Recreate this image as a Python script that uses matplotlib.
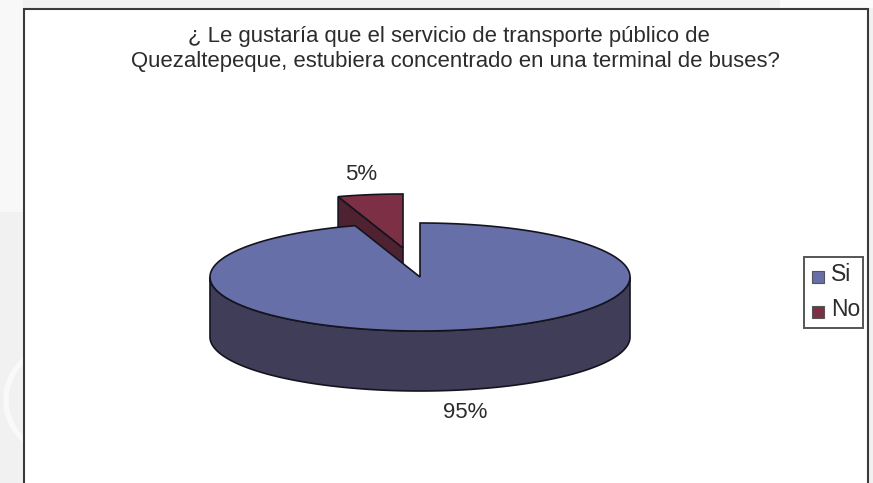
import numpy as np
import matplotlib
matplotlib.use("Agg")
import matplotlib.pyplot as plt
from matplotlib.patches import Arc, Polygon, Rectangle

# Survey answers
categories = ["Si", "No"]
shares = [95, 5]
share_labels = ["95%", "5%"]
title_lines = ["¿ Le gustaría que el servicio de transporte público de",
               "Quezaltepeque, estubiera concentrado en una terminal de buses?"]

top_colors = ["#666fa8", "#7d2f45"]
side_colors = ["#3f3d58", "#4f2232"]
EDGE = "#14141e"
TEXT = "#2c2c2c"

W, H = 873, 483
fig = plt.figure(figsize=(W / 100, H / 100), dpi=100, facecolor="#f1f1f1")
ax = fig.add_axes([0, 0, 1, 1])
ax.set_xlim(0, W)
ax.set_ylim(H, 0)
ax.axis("off")
plt.rcParams["font.family"] = ["Liberation Sans", "DejaVu Sans"]

# Pale page decoration around the chart
ax.add_patch(Rectangle((0, 0), 23, 212, fc="#f8f8f8", ec="none", zorder=0))
ax.add_patch(Rectangle((780, 0), 93, 8, fc="#fbfbfb", ec="none", zorder=0))
ax.add_patch(Arc((48, 400), 84, 96, theta1=90, theta2=270, ec="#f9f9f9", lw=4, zorder=0))

# Chart frame
ax.add_patch(Rectangle((23.5, 8.5), 844, 500, fc="white", ec="#3a3a3a", lw=1.5, zorder=1))

# Pie geometry: a flattened disc, clockwise from twelve o'clock
cx, cy, a, b, depth = 420.0, 277.0, 210.0, 54.0, 60.0


def rim(theta_deg, dx=0.0, dy=0.0):
    t = np.radians(theta_deg)
    return np.column_stack([cx + dx + a * np.sin(t), cy + dy - b * np.cos(t)])


fractions = np.array(shares) / sum(shares)
blue_end = 360 * fractions[0]
blue_arc = rim(np.linspace(0, blue_end, 300))

# Exploded "No" slice: drawn first so the disc overlaps its lower part
ox, oy = -17.0, -29.0
red_arc = rim(np.linspace(blue_end, 360, 40), ox, oy)
apex_r = np.array([cx + ox, cy + oy])
cut = np.array([red_arc[0], apex_r, apex_r + [0, depth], red_arc[0] + [0, depth]])
ax.add_patch(Polygon(cut, closed=True, fc=side_colors[1], ec=EDGE, lw=1.2, zorder=2))
ax.add_patch(Polygon(np.vstack([[apex_r], red_arc]), closed=True, fc=top_colors[1],
                     ec=EDGE, lw=1.2, zorder=3))

# "Si" slice: outer wall of the near half, then the top face
wall_arc = rim(np.linspace(90, 270, 200))
wall = np.vstack([wall_arc, (wall_arc + [0, depth])[::-1]])
ax.add_patch(Polygon(wall, closed=True, fc=side_colors[0], ec=EDGE, lw=1.2, zorder=4))
ax.add_patch(Polygon(np.vstack([[[cx, cy]], blue_arc]), closed=True, fc=top_colors[0],
                     ec=EDGE, lw=1.2, zorder=5))

# Title and value labels
ax.text(449, 36.5, title_lines[0], ha="center", va="center", fontsize=15.9, color=TEXT, zorder=6)
ax.text(455, 61, title_lines[1], ha="center", va="center", fontsize=15.9, color=TEXT, zorder=6)
ax.text(465, 412, share_labels[0], ha="center", va="center", fontsize=16, color=TEXT, zorder=6)
ax.text(361, 175, share_labels[1], ha="center", va="center", fontsize=16, color=TEXT, zorder=6)

# Legend
ax.add_patch(Rectangle((804, 256.5), 59, 71, fc="white", ec="#555555", lw=1.4, zorder=6))
for y, name, col in zip([277, 312], categories, top_colors):
    ax.add_patch(Rectangle((812, y - 6), 12, 12, fc=col, ec="#555555", lw=0.8, zorder=7))
    ax.text(831, y - 2.5, name, ha="left", va="center", fontsize=16.5, color=TEXT, zorder=7)

fig.savefig("out.png", dpi=100, facecolor=fig.get_facecolor())
